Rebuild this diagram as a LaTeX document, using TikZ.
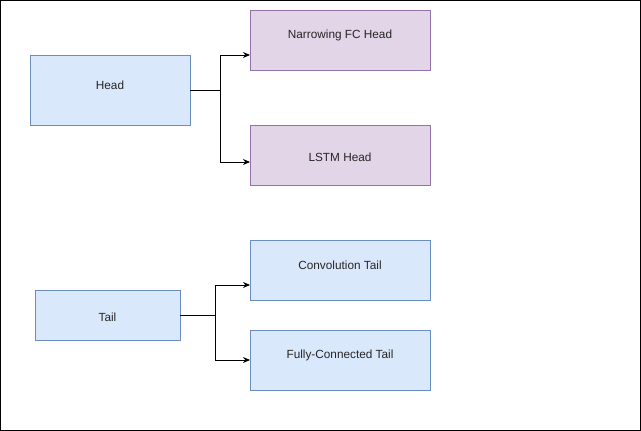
\documentclass[tikz,border=0pt]{standalone}
\usepackage{fontspec}
\setmainfont{Liberation Sans}
\usetikzlibrary{arrows.meta}
\definecolor{bfill}{HTML}{DAE8FC}
\definecolor{bline}{HTML}{6C8EBF}
\definecolor{pfill}{HTML}{E1D5E7}
\definecolor{pline}{HTML}{9673A6}
\tikzset{
  box/.style={draw, line width=0.8pt, inner sep=0pt, outer sep=0pt, anchor=north west},
  bluebox/.style={box, fill=bfill, draw=bline},
  purplebox/.style={box, fill=pfill, draw=pline},
  lbl/.style={font=\fontsize{11.8}{14}\selectfont, inner sep=0pt, text=black!85},
  conn/.style={draw=black, line width=0.9pt, -{Stealth[length=7pt,width=6pt]}},
}
\begin{document}
\begin{tikzpicture}[x=1pt,y=-1pt]
\useasboundingbox (0,0) rectangle (641,431);
\draw[line width=1.2pt] (0.6,0.6) rectangle (640.4,430.4);
% boxes
\node[bluebox, minimum width=160pt, minimum height=70pt] (head) at (30,55) {};
\node[purplebox, minimum width=180pt, minimum height=60pt] (nfc) at (250,10) {};
\node[purplebox, minimum width=180pt, minimum height=60pt] (lstm) at (250,125) {};
\node[bluebox, minimum width=145pt, minimum height=50pt] (tail) at (35,290) {};
\node[bluebox, minimum width=180pt, minimum height=60pt] (conv) at (250,240) {};
\node[bluebox, minimum width=180pt, minimum height=60pt] (fc) at (250,330) {};
% labels
\node[lbl] (thead) at (110,85) {Head};
\node[lbl] (tnfc) at (340,35) {Narrowing FC Head};
\node[lbl] (tlstm) at (340,157) {LSTM Head};
\node[lbl] (ttail) at (107.5,317) {Tail};
\node[lbl] (tconv) at (340,265) {Convolution Tail};
\node[lbl] (tfc) at (340,355) {Fully-Connected Tail};
% connectors
\coordinate (hb) at (220,90);
\coordinate (tb) at (215,315.5);
\draw[line width=0.9pt] (head.east |- hb) -- (hb);
\draw[conn] (hb) |- (nfc.west |- 0,55);
\draw[conn] (hb) |- (lstm.west |- 0,162);
\draw[line width=0.9pt] (tail.east |- tb) -- (tb);
\draw[conn] (tb) |- (conv.west |- 0,285);
\draw[conn] (tb) |- (fc.west |- 0,360);
\end{tikzpicture}
\end{document}
